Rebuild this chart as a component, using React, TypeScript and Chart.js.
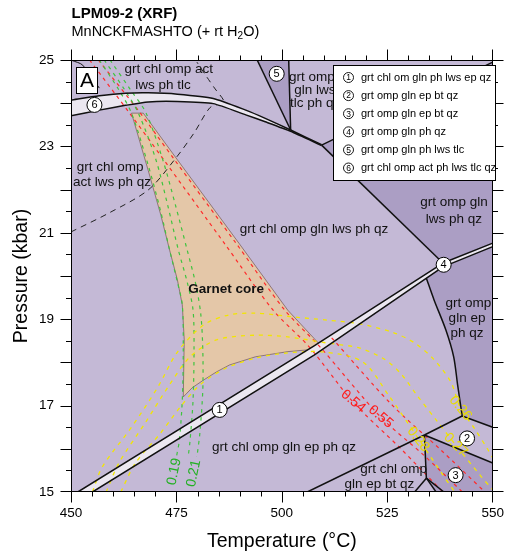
import React, { useEffect, useRef } from 'react';
import { Chart, registerables } from 'chart.js';

Chart.register(...registerables);

type Pt = [number, number];

const FONT = '"Liberation Sans", Arial, Helvetica, sans-serif';

// ---- axes ----
const T_MIN = 450, T_MAX = 550, P_MIN = 15, P_MAX = 25;
const X_TICK_LABELS = [450, 475, 500, 525, 550];
const Y_TICK_LABELS = [15, 17, 19, 21, 23, 25];
const X_MINOR_STEP = 5, X_MAJOR_STEP = 25;
const Y_MINOR_STEP = 0.5, Y_MAJOR_STEP = 1;

const TITLE = 'LPM09-2 (XRF)';
const SUBTITLE = ['MnNCKFMASHTO (+ rt H', '2', 'O)'];
const X_TITLE = 'Temperature (°C)';
const Y_TITLE = 'Pressure (kbar)';

// ---- field polygons (T °C, P kbar) ----
const FIELD_BASE: Pt[] = [[450, 15], [550, 15], [550, 25], [450, 25]];
const FIELD_5: Pt[] = [[494.14, 25], [501.62, 25], [502.08, 23.38]];
const FIELD_GLN_LWS: Pt[] = [[509.42, 23.03], [550, 24.95], [550, 20.76], [538.19, 20.30]];
const FIELD_GLN_EP: Pt[] = [[534.26, 19.95], [538.19, 20.21], [550, 20.68], [550, 16.5], [542.75, 16.76], [541.67, 17.48], [540.74, 18.13], [538.89, 18.75], [536.11, 19.44]];
const FIELD_3: Pt[] = [[533.8, 16.32], [550, 15.67], [550, 15], [536.57, 15], [534.26, 15.32]];

const CORE: Pt[] = [
  [464.35, 23.77], [468.29, 22.45], [471.3, 21.41], [473.38, 20.6], [475.23, 19.91], [476.39, 19.33], [476.85, 18.52], [476.62, 17.2],
  [478.7, 17.41], [481.41, 17.59], [484.49, 17.78], [487.57, 17.94], [493.75, 18.13], [501.46, 18.25], [507.25, 18.3], [509.49, 18.36],
  [501.39, 19.21], [489.81, 20.76], [475.23, 22.69], [467.13, 23.77],
];

const BAND6_UPPER: Pt[] = [[450, 24.07], [456.71, 24.17], [462.89, 24.23], [468.29, 24.24], [475.23, 24.21], [483.73, 24.11], [491.44, 23.84], [496.06, 23.65], [502.08, 23.38], [509.42, 23.04]];
const BAND6_LOWER: Pt[] = [[450, 23.71], [456.71, 23.84], [462.89, 23.95], [468.29, 24.03], [475.23, 24.04], [483.73, 23.99], [491.44, 23.73], [496.06, 23.57], [502.08, 23.35], [509.42, 23.02]];
const BAND1_UPPER: Pt[] = [[451.62, 15], [507.64, 18.38], [538.19, 20.3], [550, 20.76]];
const BAND1_LOWER: Pt[] = [[455.09, 15], [507.64, 18.17], [538.19, 20.21], [550, 20.68]];

// ---- boundary lines ----
const LINE_F5_W: Pt[] = [[494.14, 25], [502.08, 23.38]];
const LINE_F5_E: Pt[] = [[501.62, 25], [502.08, 23.38]];
const LINE_J_NE: Pt[] = [[509.42, 23.03], [550, 24.95]];
const LINE_J_N4: Pt[] = [[509.42, 23.03], [538.19, 20.3]];
const LINE_EP: Pt[] = [[534.26, 19.95], [536.11, 19.44], [538.89, 18.75], [540.74, 18.13], [541.67, 17.48], [542.75, 16.76]];
const LINE_NA_E: Pt[] = [[542.75, 16.76], [550, 16.5]];
const LINE_NA_NB: Pt[] = [[542.75, 16.76], [533.8, 16.32]];
const LINE_NB_E: Pt[] = [[533.8, 16.32], [550, 15.67]];
const LINE_NB_SW: Pt[] = [[533.8, 16.32], [506.02, 15]];
const LINE_NB_NC: Pt[] = [[533.8, 16.32], [534.26, 15.32]];
const LINE_NC_SW: Pt[] = [[534.26, 15.32], [531.48, 15]];
const LINE_NC_S: Pt[] = [[534.26, 15.32], [536.57, 15]];
const LINE_NC_SE: Pt[] = [[534.26, 15.32], [538.43, 15]];
const LINE_TL: Pt[] = [[450.23, 24.99], [452.78, 24.88], [456.71, 24.35]];
const DASHED_REACTION: Pt[] = [[450, 21.02], [459.03, 21.46], [468.29, 21.99], [474.54, 22.69], [479.17, 23.31], [482.87, 23.89], [484.95, 23.98], [486.34, 24.03], [484.03, 24.35], [482.18, 24.61], [479.86, 24.95]];

// ---- isopleths ----
const RED_054: Pt[] = [[454.4, 25], [463.89, 23.77], [471.99, 22.69], [486.34, 20.76], [497.92, 19.21], [506.48, 18.36], [516.9, 17.08], [528.01, 16.02], [538.19, 15]];
const RED_055: Pt[] = [[456.48, 25], [466.44, 23.77], [474.54, 22.69], [489.12, 20.76], [500.69, 19.21], [509.03, 18.36], [523.38, 16.74], [533.56, 15.86], [542.82, 15]];
const RED_056: Pt[] = [[511.81, 18.57], [526.16, 17.01], [537.73, 15.97], [548.15, 15]];
const GREEN_019: Pt[] = [[456.71, 25], [461.34, 24.31], [464.35, 23.77], [468.29, 22.57], [471.3, 21.48], [473.38, 20.6], [475.23, 19.86], [476.39, 19.33], [476.62, 18.29], [476.39, 17.13], [475.69, 16.2], [475.0, 15.81]];
const GREEN_020: Pt[] = [[457.87, 25], [462.73, 24.31], [465.97, 23.77], [470.14, 22.69], [472.92, 21.64], [475.46, 20.6], [477.55, 19.86], [478.94, 19.21], [479.17, 18.29], [478.94, 17.13], [478.24, 16.2], [477.78, 15.81]];
const GREEN_021: Pt[] = [[459.26, 25], [464.12, 24.31], [467.82, 23.77], [471.76, 22.69], [474.77, 21.64], [477.55, 20.6], [479.63, 19.79], [480.79, 19.1], [481.25, 18.29], [481.25, 17.36], [480.56, 16.37], [479.86, 15.81]];
const YELLOW_026: Pt[] = [[455.09, 15], [457.41, 15.58], [464.35, 16.5], [470.6, 17.43], [475.23, 18.24], [481.48, 18.87], [487.5, 19.1], [493.75, 19.14], [503.01, 19.05], [510.65, 18.98], [518.52, 18.89], [526.16, 18.7], [531.48, 18.45], [536.11, 18.06], [540.05, 17.55], [542.36, 16.94], [545.6, 16.48], [548.61, 16.02], [550, 15.79]];
const YELLOW_027: Pt[] = [[458.33, 15], [461.34, 15.67], [467.59, 16.6], [473.61, 17.52], [478.24, 18.13], [484.49, 18.52], [493.75, 18.63], [501.39, 18.59], [510.65, 18.45], [518.52, 18.33], [524.54, 18.06], [528.47, 17.71], [531.94, 17.25], [536.57, 16.67], [541.2, 16.09], [546.99, 15.39], [550, 15.05]];
const YELLOW_028: Pt[] = [[461.81, 15], [465.28, 15.67], [471.3, 16.37], [475.93, 16.97], [480.56, 17.48], [486.81, 17.87], [493.75, 18.1], [501.39, 18.22], [509.95, 18.24], [519.21, 18.01], [525.23, 17.25], [532.41, 16.23], [537.73, 15.46], [540.97, 15]];

// [text, T, P, angle(deg), kind]
const ISO_LABELS: [string, number, number, number, string][] = [
  ['0.54', 516.9, 17.1, 40, 'red'],
  ['0.55', 523.45, 16.74, 40, 'red'],
  ['0.19', 474.47, 15.47, -78, 'green'],
  ['0.21', 479.1, 15.43, -78, 'green'],
  ['0.26', 542.36, 16.94, 50, 'yellow'],
  ['0.27', 541.2, 16.09, 45, 'yellow'],
  ['0.28', 532.34, 16.22, 52, 'yellow'],
];

// [text, T, P, bold]
const FIELD_LABELS: [string, number, number, boolean][] = [
  ['grt chl omp act', 473.2, 24.79, false],
  ['lws ph tlc', 471.8, 24.42, false],
  ['grt chl omp', 459.3, 22.51, false],
  ['act lws ph qz', 459.7, 22.17, false],
  ['grt omp', 507.1, 24.61, false],
  ['gln lws', 507.8, 24.29, false],
  ['tlc ph qz', 507.9, 24.0, false],
  ['grt chl omp gln lws ph qz', 507.6, 21.09, false],
  ['grt omp gln', 540.8, 21.7, false],
  ['lws ph qz', 540.8, 21.31, false],
  ['grt omp', 544.2, 19.38, false],
  ['gln ep', 543.9, 19.03, false],
  ['ph qz', 543.9, 18.68, false],
  ['grt chl omp gln ep ph qz', 500.5, 16.04, false],
  ['grt chl omp', 526.5, 15.53, false],
  ['gln ep bt qz', 523.1, 15.18, false],
  ['Garnet core', 486.8, 19.69, true],
];

// [number, T, P]
const MARKERS: [string, number, number][] = [
  ['1', 485.25, 16.9],
  ['2', 543.91, 16.24],
  ['3', 541.2, 15.39],
  ['4', 538.36, 20.26],
  ['5', 498.77, 24.68],
  ['6', 455.56, 23.96],
];

const LEGEND_ITEMS = [
  'grt chl om gln ph lws ep qz',
  'grt omp gln ep bt qz',
  'grt omp gln ep bt qz',
  'grt omp gln ph qz',
  'grt omp gln ph lws tlc',
  'grt chl omp act ph lws tlc qz',
];

const COLORS: Record<string, string> = {
  base: '#c4b9d6',
  dark: '#ab9ec4',
  band: '#ebe7f0',
  core: '#e4c7a8',
  coreEdge: '#7d6262',
  line: '#111111',
  red: '#ff2a2a',
  green: '#3fc43f',
  yellow: '#f2e600',
  redText: '#ff1a1a',
  greenText: '#22b022',
  yellowText: '#e8dc00',
};

export default function App() {
  const ref = useRef<HTMLCanvasElement>(null);

  useEffect(() => {
    const canvas = ref.current;
    if (!canvas) return;

    const xy = (pts: Pt[]) => pts.map(([x, y]) => ({ x, y }));
    const closed = (pts: Pt[]) => xy([...pts, pts[0]]);
    const layers: any[] = [];
    const addPoly = (pts: Pt[], color: string, border = 'rgba(0,0,0,0)', bw = 0) =>
      layers.push({ data: closed(pts), showLine: true, fill: 'shape', backgroundColor: color, borderColor: border, borderWidth: bw, pointRadius: 0, tension: 0 });
    const addLine = (pts: Pt[], color: string, width: number, dash: number[] = [], tension = 0) =>
      layers.push({ data: xy(pts), showLine: true, fill: false, borderColor: color, borderWidth: width, borderDash: dash, pointRadius: 0, tension, borderCapStyle: 'butt', borderJoinStyle: 'round' });

    addPoly(FIELD_BASE, COLORS.base);
    addPoly(FIELD_5, COLORS.dark);
    addPoly(FIELD_GLN_LWS, COLORS.dark);
    addPoly(FIELD_GLN_EP, COLORS.dark);
    addPoly(FIELD_3, COLORS.dark);
    addPoly(CORE, COLORS.core, COLORS.coreEdge, 0.8);
    addLine(DASHED_REACTION, '#222', 1, [6, 5], 0.3);
    addPoly([...BAND6_UPPER, ...BAND6_LOWER.slice().reverse()], COLORS.band);
    addPoly([...BAND1_UPPER, ...BAND1_LOWER.slice().reverse()], COLORS.band);

    [RED_054, RED_055, RED_056].forEach((l) => addLine(l, COLORS.red, 1.2, [3.5, 4], 0.3));
    [GREEN_019, GREEN_020, GREEN_021].forEach((l) => addLine(l, COLORS.green, 1.2, [3.5, 4.5], 0.3));
    [YELLOW_026, YELLOW_027, YELLOW_028].forEach((l) => addLine(l, COLORS.yellow, 1.3, [4, 5], 0.3));

    [BAND6_UPPER, BAND6_LOWER].forEach((l) => addLine(l, COLORS.line, 1.5, [], 0.2));
    [BAND1_UPPER, BAND1_LOWER].forEach((l) => addLine(l, COLORS.line, 1.5));
    [LINE_F5_W, LINE_F5_E, LINE_J_NE, LINE_J_N4, LINE_NA_E, LINE_NA_NB, LINE_NB_E, LINE_NB_SW, LINE_NB_NC, LINE_NC_SW, LINE_NC_S, LINE_NC_SE].forEach((l) => addLine(l, COLORS.line, 1.5));
    addLine(LINE_EP, COLORS.line, 1.5, [], 0.3);
    addLine(LINE_TL, COLORS.line, 1, [], 0.3);

    layers.push({
      data: xy(MARKERS.map((m) => [m[1], m[2]] as Pt)),
      showLine: false,
      pointRadius: 7.5,
      pointHoverRadius: 7.5,
      pointBackgroundColor: '#ffffff',
      pointBorderColor: '#000000',
      pointBorderWidth: 1,
    });

    const overlay = {
      id: 'overlay',
      afterDatasetsDraw(chart: any) {
        const { ctx } = chart;
        const xs = chart.scales.x, ys = chart.scales.y;
        const px = (t: number) => xs.getPixelForValue(t);
        const py = (p: number) => ys.getPixelForValue(p);
        ctx.save();
        ctx.textAlign = 'center';
        ctx.textBaseline = 'middle';
        for (const [txt, t, p, ang, kind] of ISO_LABELS) {
          ctx.save();
          ctx.translate(px(t), py(p));
          ctx.rotate((ang * Math.PI) / 180);
          ctx.font = `14px ${FONT}`;
          ctx.fillStyle = COLORS[kind + 'Text'];
          ctx.fillText(txt, 0, 0);
          ctx.restore();
        }
        ctx.fillStyle = '#111';
        for (const [txt, t, p, bold] of FIELD_LABELS) {
          ctx.font = `${bold ? 'bold ' : ''}13.5px ${FONT}`;
          ctx.fillText(txt, px(t), py(p));
        }
        ctx.font = `11px ${FONT}`;
        ctx.fillStyle = '#000';
        for (const [n, t, p] of MARKERS) ctx.fillText(n, px(t), py(p) + 0.5);
        ctx.restore();
      },
      afterDraw(chart: any) {
        const { ctx, chartArea } = chart;
        const { left, right, top, bottom } = chartArea;
        const xs = chart.scales.x, ys = chart.scales.y;
        ctx.save();
        // frame
        ctx.strokeStyle = '#000';
        ctx.lineWidth = 1;
        const L = Math.round(left) + 0.5, R = Math.round(right) - 0.5, T = Math.round(top) + 0.5, B = Math.round(bottom) - 0.5;
        ctx.strokeRect(L, T, R - L, B - T);
        // ticks
        ctx.beginPath();
        for (let v = T_MIN; v <= T_MAX + 1e-9; v += X_MINOR_STEP) {
          const x = Math.round(xs.getPixelForValue(v)) + (v === T_MAX ? -0.5 : 0.5);
          const len = Math.abs(v % X_MAJOR_STEP) < 1e-6 ? 11 : 5;
          ctx.moveTo(x, B); ctx.lineTo(x, B + len);
          ctx.moveTo(x, T); ctx.lineTo(x, T - len);
        }
        for (let v = P_MIN; v <= P_MAX + 1e-9; v += Y_MINOR_STEP) {
          const y = Math.round(ys.getPixelForValue(v)) + (v === P_MIN ? -0.5 : 0.5);
          const len = Math.abs(v % Y_MAJOR_STEP) < 1e-6 ? 11 : 5.5;
          ctx.moveTo(L, y); ctx.lineTo(L - len, y);
          ctx.moveTo(R, y); ctx.lineTo(R + len, y);
        }
        ctx.stroke();

        // panel letter box
        ctx.fillStyle = '#fff';
        ctx.fillRect(left + 5.5, top + 7.5, 21, 26);
        ctx.strokeRect(left + 5.5, top + 7.5, 21, 26);
        ctx.fillStyle = '#000';
        ctx.font = `21px ${FONT}`;
        ctx.textAlign = 'center';
        ctx.textBaseline = 'middle';
        ctx.fillText('A', left + 16, top + 21.5);

        // legend box
        const lx = Math.round(right) - 160 + 0.5, ly = top + 5.5, lw = 162, lh = 115;
        ctx.fillStyle = '#fff';
        ctx.fillRect(lx, ly, lw, lh);
        ctx.strokeRect(lx, ly, lw, lh);
        LEGEND_ITEMS.forEach((txt, i) => {
          const cy = ly + 12 + i * 18.1;
          ctx.beginPath();
          ctx.arc(lx + 15, cy, 5, 0, Math.PI * 2);
          ctx.fillStyle = '#fff';
          ctx.fill();
          ctx.lineWidth = 0.9;
          ctx.strokeStyle = '#000';
          ctx.stroke();
          ctx.fillStyle = '#000';
          ctx.font = `8.5px ${FONT}`;
          ctx.textAlign = 'center';
          ctx.fillText(String(i + 1), lx + 15, cy + 0.5);
          ctx.font = `11px ${FONT}`;
          ctx.textAlign = 'left';
          ctx.fillText(txt, lx + 27.5, cy);
        });

        // titles
        ctx.fillStyle = '#000';
        ctx.textAlign = 'left';
        ctx.textBaseline = 'middle';
        ctx.font = `bold 15px ${FONT}`;
        ctx.fillText(TITLE, left + 0.5, top - 46.5);
        let tx = left + 0.5;
        ctx.font = `14.5px ${FONT}`;
        ctx.fillText(SUBTITLE[0], tx, top - 28);
        tx += ctx.measureText(SUBTITLE[0]).width;
        ctx.font = `10px ${FONT}`;
        ctx.fillText(SUBTITLE[1], tx, top - 24);
        tx += ctx.measureText(SUBTITLE[1]).width;
        ctx.font = `14.5px ${FONT}`;
        ctx.fillText(SUBTITLE[2], tx, top - 28);
        ctx.restore();
      },
    };

    const chart = new Chart(canvas, {
      type: 'scatter',
      data: { datasets: layers.slice().reverse() },
      options: {
        animation: false,
        responsive: false,
        events: [],
        layout: { padding: { top: 60, right: 14, left: 0, bottom: 0 } },
        plugins: { legend: { display: false }, tooltip: { enabled: false } },
        scales: {
          x: {
            type: 'linear',
            min: T_MIN,
            max: T_MAX,
            grid: { display: false, drawTicks: false },
            border: { display: false },
            ticks: {
              stepSize: X_MAJOR_STEP,
              autoSkip: false,
              maxRotation: 0,
              color: '#000',
              padding: 13,
              font: { family: FONT, size: 13.5 },
              callback: (v: any) => (X_TICK_LABELS.some((t) => Math.abs(t - v) < 1e-6) ? String(Math.round(v)) : ''),
            },
            title: { display: true, text: X_TITLE, color: '#000', font: { family: FONT, size: 19.5 }, padding: { top: 0, bottom: 7 } },
            afterFit: (s: any) => { s.height = 68; },
          },
          y: {
            type: 'linear',
            min: P_MIN,
            max: P_MAX,
            grid: { display: false, drawTicks: false },
            border: { display: false },
            ticks: {
              stepSize: Y_MAJOR_STEP,
              autoSkip: false,
              color: '#000',
              padding: 17,
              font: { family: FONT, size: 13.5 },
              callback: (v: any) => (Y_TICK_LABELS.some((t) => Math.abs(t - v) < 1e-6) ? String(Math.round(v)) : ''),
            },
            title: { display: true, text: Y_TITLE, color: '#000', font: { family: FONT, size: 19.5 }, padding: { top: 10, bottom: 0 } },
            afterFit: (s: any) => { s.width = 71; },
          },
        },
      } as any,
      plugins: [overlay],
    });

    return () => chart.destroy();
  }, []);

  return (
    <canvas
      ref={ref}
      width={517}
      height={560}
      style={{ position: 'absolute', left: 0, top: 0, width: 517, height: 560 }}
    />
  );
}
